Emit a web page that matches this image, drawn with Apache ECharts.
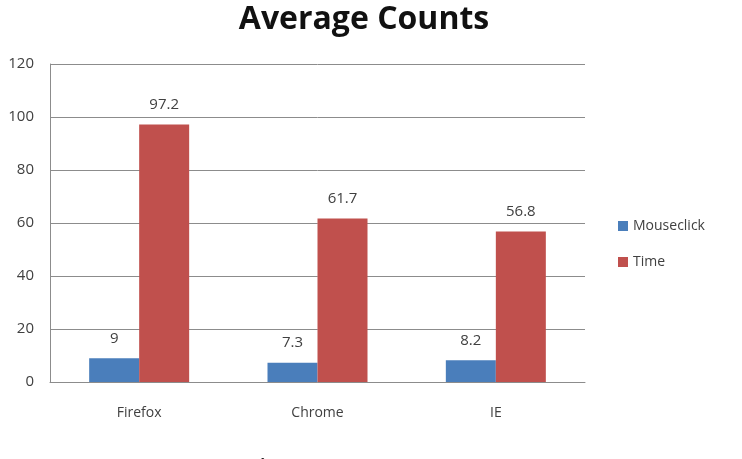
<!DOCTYPE html>
<html>
<head>
<meta charset="utf-8">
<style>
  html, body { margin: 0; padding: 0; background: #fff; }
  #chart { width: 742px; height: 459px; }
</style>
<script src="https://cdn.jsdelivr.net/npm/echarts@6/dist/echarts.min.js"></script>
</head>
<body>
<div id="chart"></div>
<script>
var browsers = ['Firefox', 'Chrome', 'IE'];
var mouseclick = [9, 7.3, 8.2];
var time = [97.2, 61.7, 56.8];
var yTicks = [0, 20, 40, 60, 80, 100, 120];

var ink = '#404040';
var rule = '#8c8c8c';
var font = '"Open Sans", "Liberation Sans", sans-serif';

var chart = echarts.init(document.getElementById('chart'), null, { renderer: 'canvas' });
chart.setOption({
  animation: false,
  title: {
    text: 'Average Counts',
    left: 359, top: -1, textAlign: 'center',
    textStyle: { fontFamily: font, fontSize: 32, fontWeight: 'bold', color: '#111' }
  },
  legend: {
    orient: 'vertical',
    left: 613, top: 214,
    itemWidth: 10, itemHeight: 10, itemGap: 22,
    icon: 'rect',
    textStyle: { fontFamily: font, fontSize: 14, color: ink },
    data: ['Mouseclick', 'Time']
  },
  grid: { left: 50, right: 157, top: 64, bottom: 77 },
  xAxis: {
    type: 'category',
    data: browsers,
    axisTick: { show: false },
    axisLine: { lineStyle: { color: rule } },
    axisLabel: { margin: 24, fontFamily: font, fontSize: 14, color: ink }
  },
  yAxis: {
    type: 'value',
    min: yTicks[0], max: yTicks[yTicks.length - 1], interval: 20,
    axisLine: { show: true, lineStyle: { color: rule } },
    axisTick: { show: false },
    axisLabel: { margin: 16, fontFamily: font, fontSize: 15, color: ink },
    splitLine: { lineStyle: { color: rule } }
  },
  series: [
    {
      name: 'Mouseclick', type: 'bar', data: mouseclick,
      barWidth: 50, barGap: '0%',
      itemStyle: { color: '#4a7ebb' },
      label: { show: true, position: 'top', distance: 12, fontFamily: font, fontSize: 15, color: ink }
    },
    {
      name: 'Time', type: 'bar', data: time,
      barWidth: 50,
      itemStyle: { color: '#c0504d' },
      label: { show: true, position: 'top', distance: 12, fontFamily: font, fontSize: 15, color: ink }
    }
  ],
  graphic: [{
    type: 'text', left: 250, top: 458,
    style: { text: 'Figure 4.1.2', font: 'bold 18px ' + font, fill: '#111' }
  }]
});
window.addEventListener('resize', function() { chart.resize(); });
</script>
</body>
</html>
